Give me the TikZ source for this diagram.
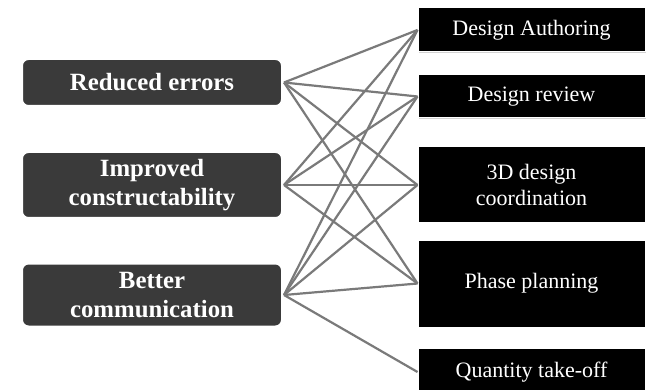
\documentclass[tikz,border=0pt]{standalone}
\usepackage{fontspec}
\setmainfont{Liberation Serif}
\usetikzlibrary{shadows}
\definecolor{benefitfill}{HTML}{3A3A3A}
\definecolor{linkgray}{HTML}{7A7A7A}
\begin{document}
\begin{tikzpicture}[x=1pt,y=-1pt,
  benefit/.style={rectangle, rounded corners=7pt, fill=benefitfill, draw=white,
    line width=3pt, minimum width=261pt, inner sep=0pt, align=center,
    text=white, font=\fontsize{24.8}{29.5}\selectfont\bfseries,
    drop shadow={shadow xshift=0.6pt, shadow yshift=-0.8pt, fill=black!50, opacity=0.5}},
  usecase/.style={rectangle, fill=black, draw=white, line width=1pt,
    minimum width=227pt, inner sep=0pt, align=center,
    text=white, font=\fontsize{22}{26}\selectfont,
    drop shadow={shadow xshift=1pt, shadow yshift=-1.2pt, fill=black!35, opacity=0.5}},
  link/.style={draw=linkgray, line width=2.2pt}]
\clip (0,0) rectangle (653,390);
\fill[white] (0,0) rectangle (653,390);

% benefits on the left
\node[benefit, minimum height=48pt] (red) at (152,82.5) {Reduced errors};
\node[benefit, minimum height=67pt] (imp) at (152,185) {Improved\\constructability};
\node[benefit, minimum height=64pt] (bet) at (152,295) {Better\\communication};

% BIM uses on the right
\node[usecase, minimum height=44pt] (da) at (531.5,30) {Design Authoring};
\node[usecase, minimum height=43pt] (dr) at (531.5,96.5) {Design review};
\node[usecase, minimum height=76pt] (dc) at (531.5,185) {3D design\\coordination};
\node[usecase, minimum height=87pt] (pp) at (531.5,283.5) {Phase planning};
\node[usecase, minimum height=48pt] (qt) at (531.5,372) {Quantity take-off};

% links between benefits and uses
\foreach \s in {red,imp}
  \foreach \t in {da,dr,dc,pp}
    \draw[link] (\s.east) -- (\t.west);
\foreach \t in {da,dr,dc,pp,qt}
  \draw[link] (bet.east) -- (\t.west);
\end{tikzpicture}
\end{document}
